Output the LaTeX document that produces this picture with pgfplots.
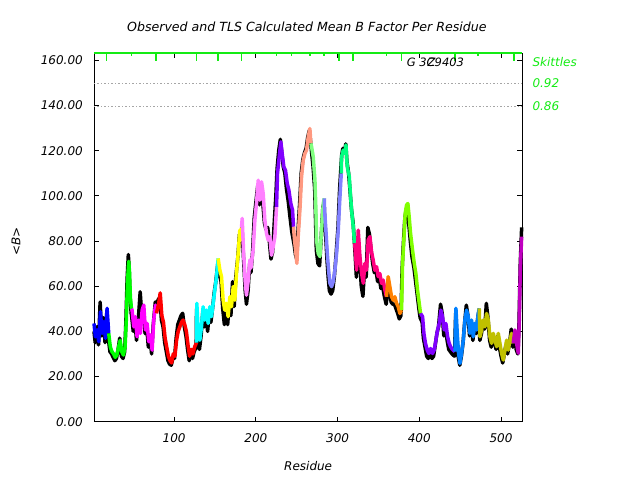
\documentclass[border=0pt]{standalone}
\usepackage{fontspec}
\setmainfont{DejaVu Sans}
\usepackage{pgfplots}
\pgfplotsset{compat=1.18}
\definecolor{skit}{RGB}{20,235,20}
\definecolor{cA}{RGB}{0,0,255}
\definecolor{cB}{RGB}{0,255,0}
\definecolor{cC}{RGB}{255,0,255}
\definecolor{cD}{RGB}{255,0,0}
\definecolor{cE}{RGB}{0,255,255}
\definecolor{cF}{RGB}{255,255,0}
\definecolor{cG}{RGB}{255,128,255}
\definecolor{cH}{RGB}{128,0,255}
\definecolor{cI}{RGB}{255,153,128}
\definecolor{cJ}{RGB}{128,255,128}
\definecolor{cK}{RGB}{128,128,255}
\definecolor{cL}{RGB}{0,255,128}
\definecolor{cM}{RGB}{255,0,128}
\definecolor{cN}{RGB}{255,128,0}
\definecolor{cO}{RGB}{128,255,0}
\definecolor{cP}{RGB}{128,0,255}
\definecolor{cQ}{RGB}{0,128,255}
\definecolor{cR}{RGB}{192,192,0}
\definecolor{cS}{RGB}{192,0,192}
\begin{document}
\itshape\fontsize{12}{14}\selectfont
\begin{tikzpicture}
\path[use as bounding box] (-94pt,-58.3pt) rectangle (546pt,421.7pt);
\begin{axis}[
  at={(0,0)}, anchor=south west,
  width=428.3pt, height=368.2pt, scale only axis,
  xmin=2, xmax=526, ymin=0, ymax=163,
  xtick={100,200,300,400,500},
  ytick={0,20,40,60,80,100,120,140,160},
  yticklabel style={/pgf/number format/fixed, /pgf/number format/fixed zerofill, /pgf/number format/precision=2, xshift=-7pt},
  /pgf/number format/assume math mode=true,
  xticklabel style={yshift=-8pt},
  tick align=inside, major tick length=5pt,
  tick style={black, line width=0.8pt},
  axis line style={line width=0.8pt},
  clip=false,
  unbounded coords=jump,
  every axis plot/.append style={line join=round},
]
% reference levels
\addplot[gray!70, dash pattern=on 1.5pt off 2pt, line width=0.7pt] coordinates {(2,149.7)(526,149.7)};
\addplot[gray!70, dash pattern=on 1.5pt off 2pt, line width=0.7pt] coordinates {(2,139.7)(526,139.7)};

% observed
\addplot[black, line width=3.5pt] coordinates {
(2,40)(3.5,35)(5.5,42)(7.5,34)(9.5,53)(11.5,38)(13.5,46)(15.5,35)(17.5,48)(19.5,37)
(21.5,31)(23.5,30)(25.5,28.5)(27.5,27)(29.5,28)(31.5,32)(33.5,37)(35.5,29)(37.5,28)(39.5,31)(41,44)(42.5,63)(44,74)(45,68)(46,56)(47.5,48)
(48,47)(50,40)(52,45)(54,36)(56,44)(58.5,57.5)(60.5,47)(62.5,50)(64.5,39)(66.5,42)(68.5,33)(70.5,37)(72.5,30)(74.5,43)(77,53)
(78,50)(80.5,54)(82.5,55)(84.5,45)(86.5,42)(88.5,35)(90.5,31)(92.5,27)(94.5,25.5)(96.5,25)(98.5,28)(100.5,28)(102.5,37)(104.5,43)(106.5,45)(108.5,47)(110.5,48)(112.5,42)(114.5,38)(116.5,32)(118.5,27)(120.5,31)(122.5,28)(124.5,31)(127,33)
(127.5,50)(129,38)(131,32)(133,38)(135,48)(137,42)(139,47)(141,40)(143,48)(145,44)(147,50)(149,57)(151,62)(153.5,70)
(155.5,65)(157.5,62)(159.5,50)(161.5,43)(163.5,48)(165.5,43)(167.5,52)(169.5,47)(171.5,62)(173.5,51)(175.5,64)(178,73)(180,83)(182,82)
(183,86)(185,72)(187,58)(188.5,52)(190.5,58)(192.5,70)(194,66)(196,75)(198,90)(200,97)(202.5,105)(204.5,96)(206.5,104)(208.5,97)(210.5,88)(212.5,85)(214.5,86)(216.5,80)(218.5,72)(220.5,75)(222.5,88)(224.5,100)
(226,112)(228,120)(230,125)(231.5,120)(233.5,113)(235.5,110)(237.5,103)(239.5,98)(242,90)(244,84)(246,80)
(247,78)(248.5,74)(250,72)(251.5,84)(253.5,96)(255.5,110)(257.5,116)(259.5,119)(261.5,121)(263.5,126)(265.5,129)(267,124)
(268,120)(270,113)(272,103)(273,90)(274,76)(276,70)(278,69)(280,82)(282,95)(283.5,97)
(284,92)(285.5,82)(287,72)(288.5,64)(290,58)(292,56.5)(294,58)(296,64)(298,73)(300.5,86)(302.5,103)(304,112)
(305,118)(306.5,121)(308.5,119)(310,123)(311.5,115)(313.5,110)(315.5,101)(317,94)(319,88)(320.5,80)
(321.5,74)(323,64)(325,82)(327,72)(329,60)(331,55.5)(333,68)(335,64)(337,86)(339,83)(341,76)(343,70)(345,66)(347,67)(349,62)(351,64)(353,59)(355,60)(357.5,55)(359.5,52)
(361.5,60)(363.5,57)(365.5,53)(367.5,52)(369.5,52)(371.5,50)(373.5,48)(375.5,45.5)(377.5,47)
(379,68)(380.5,79)(382.3,90)(384,94)(385.5,95)(387,88)(389,80)(391,73)(393.5,68)(395.5,62)(397.5,56)(399.5,50)(401,46)
(403.5,44)(405,37)(407,33)(409,29)(411,28)(413,30)(415.5,28)(417.5,29)(419.5,34)(421.5,39)(423.5,42)(426,52)(428,48)(430,38)(432,42)(434,36)(436,32)(438,31)(440,30)(443,29)
(444.5,48)(446,37)(447.5,29)(449.5,25)(451.5,29)(453.5,35)(455.5,44)(457.5,51.6)(459.5,47)(461.5,38)(463.5,44)(465.5,36)(467.5,42)(469.5,39)(471.5,46)(473,49)
(474,36)(476,39)(478,44)(480,41)(482,52.4)(484,46)(486,36)(488,33)(490,38)(492,35)(494,32)(496,38)(498,33)(500,29)(502,26)(504,30)(506,34)(508,30)(510.5,35)(512.5,41)(514.5,33)
(516.5,39)(518.5,32)(520.5,30)(522,44)(523.5,70)(525.2,86)
};

% TLS calculated, one colour per segment
\addplot[cA, line width=3.5pt] coordinates {(2,43.5)(3.7,37.6)(5.8,40.6)(7.8,35.4)(9.9,48.7)(11.9,39.1)(14,44.3)(16,36.9)(18,50.2)(20,39.1)};
\addplot[cB, line width=3.5pt] coordinates {(20,39.1)(22,33)(24,31)(26,30)(28,28.5)(30,29.5)(32,33)(34,36)(36,31)(38,29.5)(40,33)(41.5,45)(43,62)(44.5,71)(45.5,66)(46.5,55)(47.8,50)};
\addplot[cC, line width=3.5pt] coordinates {(47.8,50)(48.6,49.4)(50.7,42)(52.7,46.5)(54.7,37.6)(56.8,45)(58.8,39.1)(60.9,49.4)(62.9,51.6)(64.9,40.6)(67,43.5)(69,35.4)(71.1,38.4)(73.1,31.7)(75.1,45)(77.2,51.6)(78.4,48)};
\addplot[cD, line width=3.5pt] coordinates {(78.4,48)(81,52)(83,57)(85,47)(87,44)(89,37)(91,33)(93,29)(95,27)(97,26)(99,30)(101,29)(103,36)(105,40)(107,42)(109,44)(111,45)(113,43)(115,40)(117,34)(119,29)(121,32)(123,30)(125,33)(127.4,35)};
\addplot[cE, line width=3.5pt] coordinates {(127.4,35)(127.8,52.4)(129.4,40.6)(131.5,36.1)(133.5,42)(135.5,50.9)(137.6,45)(139.6,49.4)(141.7,43.5)(143.7,50.9)(145.7,46.5)(147.8,52.4)(149.8,58.3)(151.9,64.2)(153.9,72.3)};
\addplot[cF, line width=3.5pt] coordinates {(153.9,72.3)(156,67.1)(158,64.2)(160,53.8)(162,49.4)(164,52.4)(166.1,46.5)(168.2,55.3)(170.2,50.9)(172.3,59.8)(174.3,53.8)(176.3,65.7)(178.4,74.5)(180.4,84.8)(181.6,80.4)(182.5,86)};
\addplot[cG, line width=3.5pt] coordinates {(182.5,86)(183.3,90)(185,75)(187,62)(188.5,56)(190.5,62)(192.7,71.6)(194,68)(196.7,76)(198.8,89.2)(200.8,96.6)(202.9,106.9)(204.9,98.1)(207,106.2)(209,101)(211,89.2)(213.1,83.3)(215.1,80.4)(217.1,81.9)(219.2,73.7)(221.2,77.4)(223.3,81.9)(225.3,95.1)};
\addplot[cH, line width=3.5pt] coordinates {(225.3,95.1)(226.5,109.9)(228.6,117.3)(230.6,123.9)(232.2,118.7)(234.3,112.8)(236.3,111.3)(238.4,105.5)(240.4,102.5)(242.8,96.6)(244.9,93.7)(246.1,86.3)};
\addplot[cI, line width=3.5pt] coordinates {(246.1,86.3)(247,81.9)(248.6,76)(250.2,70.1)(251.8,81.9)(253.9,93.7)(255.9,108.4)(258,115.8)(260,118.7)(262,120.2)(264.1,126.1)(266.1,129.8)(267.3,123.2)};
\addplot[cJ, line width=3.5pt] coordinates {(267.3,123.2)(268.2,121.7)(270.2,117.3)(272.3,107)(273.5,93.7)(274.3,80.4)(276.3,74.5)(278.4,73.1)(280.4,84.8)(282.5,96.6)(283.7,98.9)};
\addplot[cK, line width=3.5pt] coordinates {(283.7,98.9)(284.1,93.7)(285.7,84.8)(287.4,74.5)(289,67.1)(290.6,61.3)(292.7,59.8)(294.7,62)(296.7,67.1)(298.8,74.5)(300.8,84.8)(302.9,99.6)(304.5,109.9)};
\addplot[cL, line width=3.5pt] coordinates {(304.5,109.9)(304.9,117.3)(306.9,120.2)(309,118.7)(310.2,122.5)(311.8,112.9)(314.3,108.5)(315.9,99.6)(317.5,92.2)(319.2,86.3)(320.8,79)};
\addplot[cM, line width=3.5pt] coordinates {(320.8,79)(321.6,76)(323.3,67.1)(325.3,84.8)(327.3,73.1)(329.4,65.7)(331.4,61.3)(333.5,70.1)(335.5,67.1)(337.5,80.4)(339.6,81.9)(341.6,75)(343.6,71.5)(345.6,67.1)(347.7,68.6)(349.7,64.2)(351.7,65.6)(353.8,61.2)(355.8,62.7)(357.9,58.3)(359.9,55.3)};
\addplot[cN, line width=3.5pt] coordinates {(359.9,55.3)(361.9,64.2)(364,59.7)(366,55.3)(368.1,53.8)(370.1,55.3)(372.1,52.4)(374.2,50.9)(376.2,47.9)(378.3,49.4)};
\addplot[cO, line width=3.5pt] coordinates {(378.3,49.4)(379.5,70.1)(381.1,80.4)(382.7,92.2)(384.4,95.9)(386,96.6)(387.6,90.7)(389.3,83.3)(391.7,76)(393.8,70.1)(395.8,65.6)(397.8,58.3)(399.9,52.4)(401.5,47.9)};
\addplot[cP, line width=3.5pt] coordinates {(401.5,47.9)(404,46.5)(405.6,39.1)(407.6,34.6)(409.7,31.7)(411.7,30.2)(413.8,32.4)(416.2,30.2)(418.2,31.7)(420.3,36.1)(422.3,40.6)(424.4,43.5)(426.4,49.4)(428.4,46.5)(430.5,40.6)(432.5,43.5)(434.6,37.6)(436.6,34.6)(438.5,33)(440.5,32)(443.6,31)};
\addplot[cQ, line width=3.5pt] coordinates {(443.6,31)(444.8,50.2)(446.4,39.1)(448,30.3)(449.7,25.8)(451.7,30.3)(453.8,36.1)(455.8,45)(457.8,49.4)(459.9,46.5)(461.9,39.1)(463.9,45)(466,37.6)(468,43.5)(470.1,40.6)(472.1,47.9)(473.3,50.2)};
\addplot[cR, line width=3.5pt] coordinates {(473.3,50.2)(474.2,37.6)(476.2,40.6)(478.2,45)(480.3,42)(482.3,47.9)(484.4,45)(486.4,37.6)(488.4,34.7)(490.5,39.1)(492.5,36.1)(494.6,33.2)(496.6,39.1)(498.6,34.7)(500.7,30.3)(502.7,27.3)(504.8,31.7)(506.8,36.1)(508.8,31.7)(510.9,36.1)(512.9,39.1)(514.9,34.7)};
\addplot[cS, line width=3.5pt] coordinates {(514.9,34.7)(517,40.6)(519,34.7)(521.1,30.3)(522.3,45)(523.5,67.1)(525.2,81.9)};

% skittles markers along the top
\addplot[skit, line width=2pt] coordinates {(2,163)(526,163)};
\addplot[skit, line width=1.6pt] coordinates {
(17.3,163)(17.3,159.9)(17.3,nan)
(47.9,163)(47.9,161.7)(47.9,nan)
(77.6,163)(77.6,159.9)(77.6,nan)
(127.4,163)(127.4,159.9)(127.4,nan)
(153.5,163)(153.5,159.9)(153.5,nan)
(182.5,163)(182.5,159.9)(182.5,nan)
(225.3,163)(225.3,161.7)(225.3,nan)
(243.7,163)(243.7,161.7)(243.7,nan)
(266.1,163)(266.1,162.1)(266.1,nan)
(283.2,163)(283.2,161.7)(283.2,nan)
(301.6,163)(301.6,159.9)(301.6,nan)
(318.7,163)(318.7,159.9)(318.7,nan)
(360,163)(360,161.7)(360,nan)
(378.3,163)(378.3,159.9)(378.3,nan)
(443.6,163)(443.6,159.9)(443.6,nan)
(471.8,163)(471.8,161.7)(471.8,nan)
(515.8,163)(515.8,159.9)
};

\node[anchor=west, inner sep=0, text=skit] at (axis cs:526,159.2) [xshift=10pt] {Skittles};
\node[anchor=west, inner sep=0, text=skit] at (axis cs:526,149.7) [xshift=10pt] {0.92};
\node[anchor=west, inner sep=0, text=skit] at (axis cs:526,139.7) [xshift=10pt] {0.86};
\node[anchor=west, inner sep=0, font=\fontsize{11.5}{13}\selectfont] at (axis cs:384.5,159.2) {G 3C9403};
\node[anchor=west, inner sep=0, font=\fontsize{11.5}{13}\selectfont] at (axis cs:410,159.2) {Z};

\node[font=\fontsize{12.6}{15}\selectfont] at (axis description cs:0.497,1.072) {Observed and TLS Calculated Mean B Factor Per Residue};
\node at (axis description cs:0.5,-0.1203) {Residue};
\node[rotate=90] at (axis description cs:-0.182,0.489) {<B>};
\end{axis}
\end{tikzpicture}
\end{document}
